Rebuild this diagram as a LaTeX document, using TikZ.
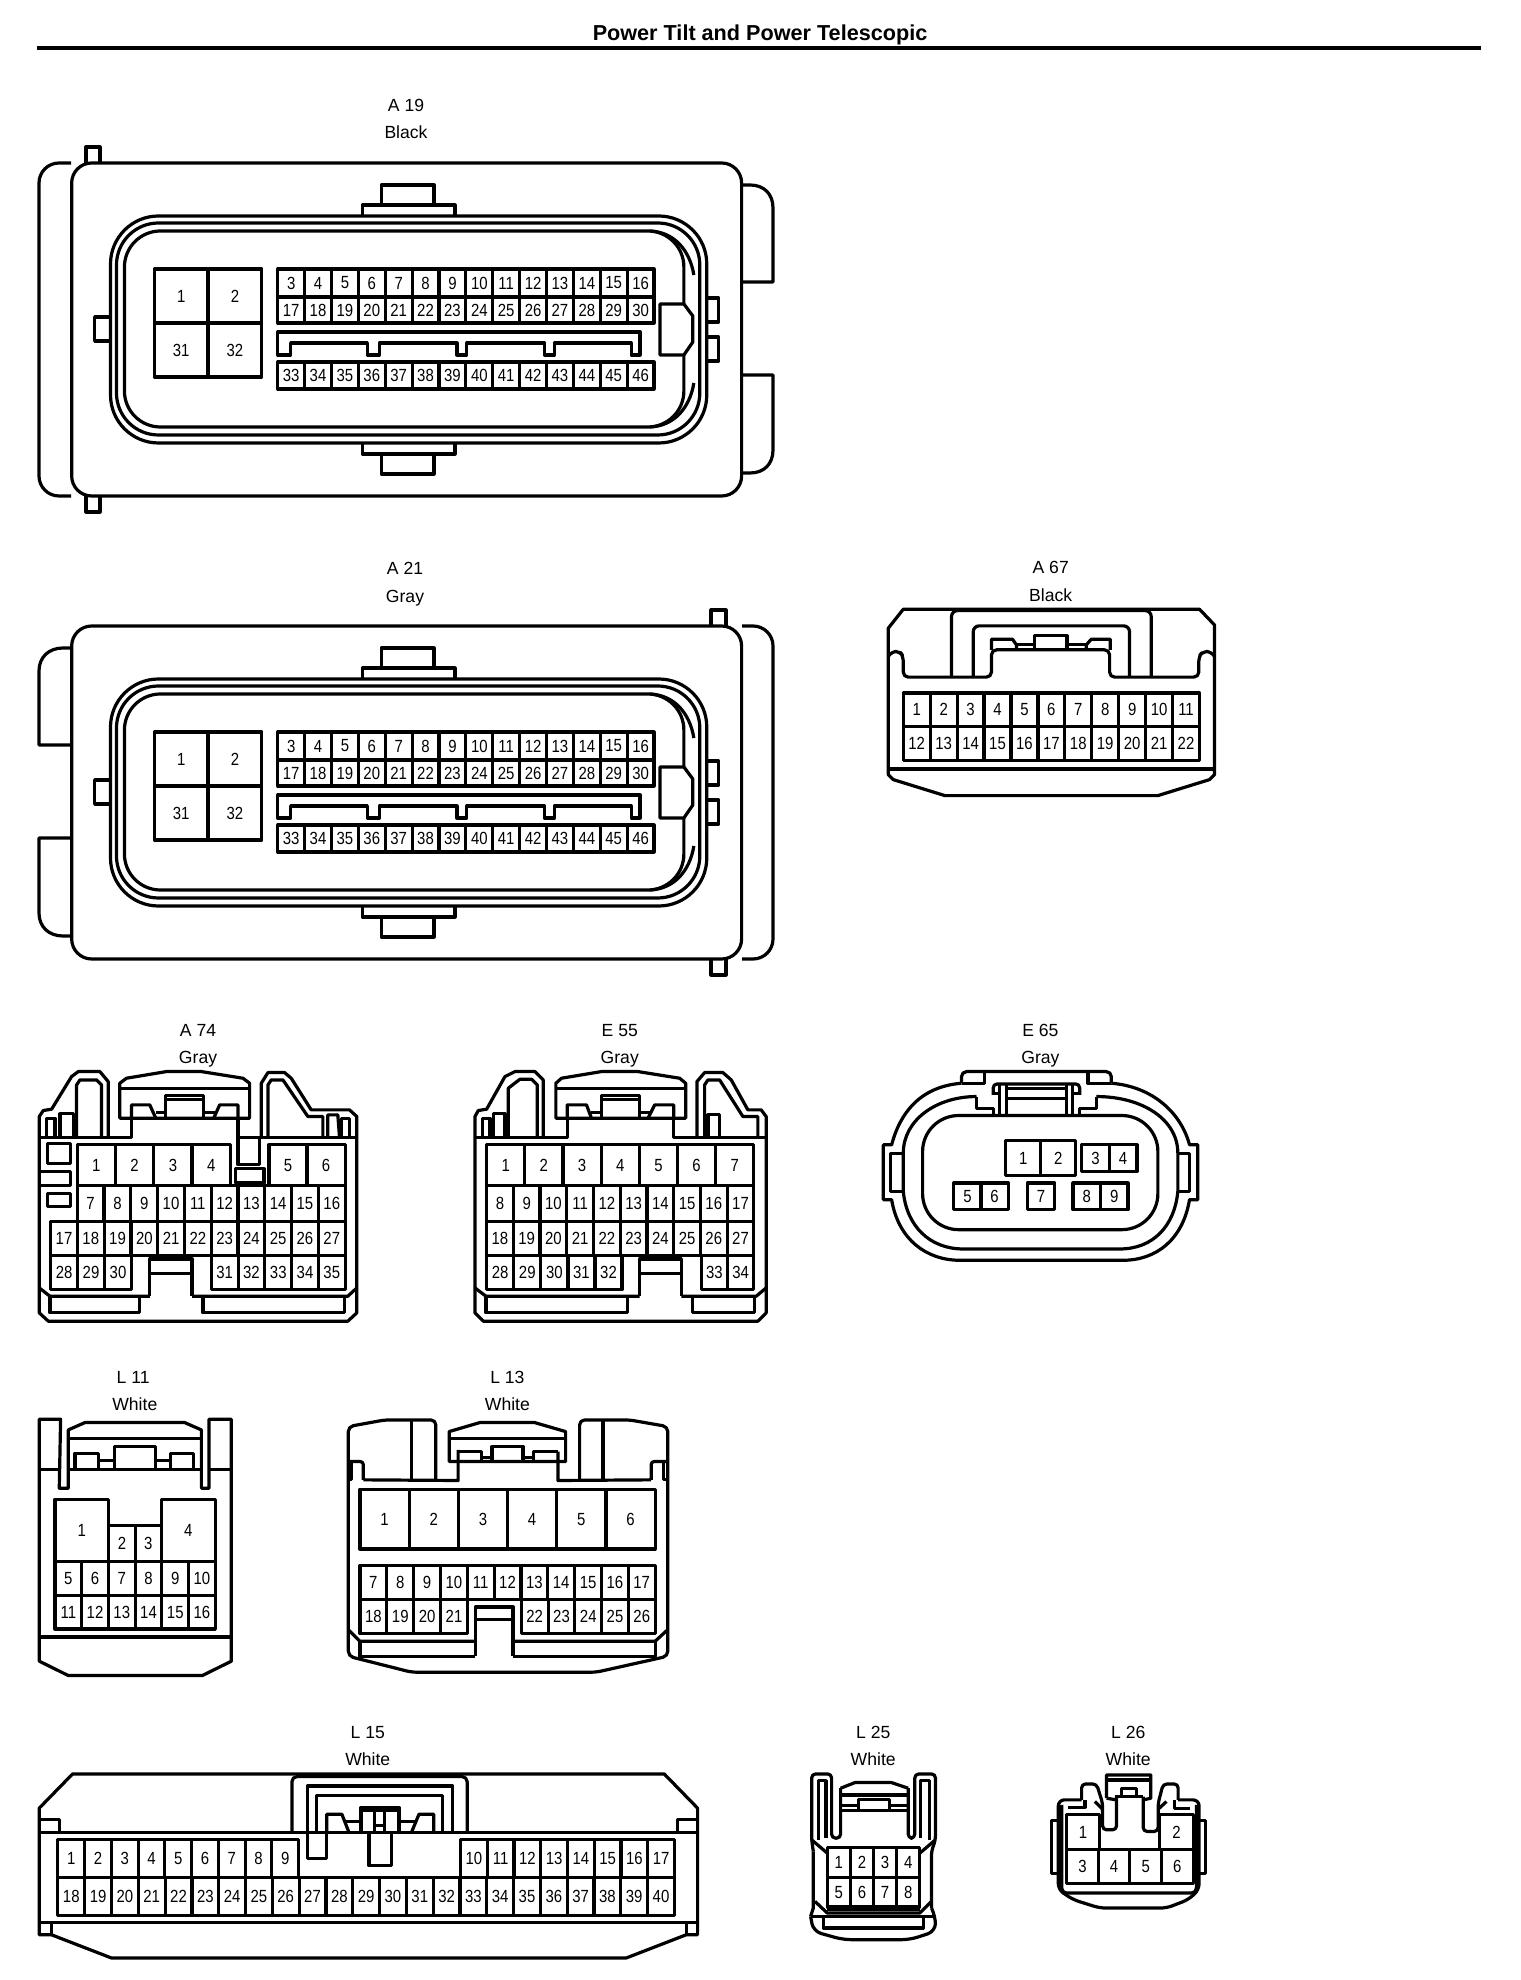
\documentclass[tikz,border=0pt]{standalone}
\usepackage{fontspec}
\setmainfont{Liberation Sans}
\newfontfamily\pinfont[FakeStretch=0.85]{Liberation Sans}
\tikzset{conn/.style = {line width = 0.032cm, line join = round}}
\tikzset{pinlab/.style = {font = \pinfont\fontsize{5}{6}\selectfont, inner sep = 0}}
\tikzset{lab/.style = {font = \fontsize{5}{6}\selectfont, anchor = base, inner sep = 0}}
\tikzset{zoomed/.style = {x = 0.0033333cm, y = -0.0033333cm}}
\newcommand{\pinrow}[7]{
  \foreach \n [evaluate = \n as \xa using {#2+(\n-#6)/(#7-#6+1)*(#3-#2)},
               evaluate = \n as \xb using {#2+(\n-#6+1)/(#7-#6+1)*(#3-#2)}] in {#6,...,#7} {
    \draw [conn] (\xa, #4) rectangle (\xb, #5) node [midway, pinlab] (#1-\n) {\n};
  }
}
\newcommand{\ecufront}[2]{
  \begin{scope}[shift = {(1, #2)}, x = 0.00995cm]
    \draw [conn, rounded corners = 0.2cm] (71, 163) rectangle (744, 496);
    \draw [conn] (382, 205) -- (382, 185) -- (435, 185) -- (435, 205);
    \draw [conn] (363, 216) -- (363, 205) -- (456, 205) -- (456, 216);
    \draw [conn] (363, 443) -- (363, 454) -- (456, 454) -- (456, 443);
    \draw [conn] (382, 454) -- (382, 474) -- (435, 474) -- (435, 454);
    \draw [conn, rounded corners = 0.48cm] (110, 216) rectangle (709, 443);
    \draw [conn, rounded corners = 0.42cm] (116, 223) rectangle (702, 435);
    \draw [conn, rounded corners = 0.36cm] (124, 231) rectangle (686, 427);
    \draw [conn] (652, 231) .. controls (676, 232) and (692, 250) .. (696, 275);
    \draw [conn] (652, 427) .. controls (676, 426) and (692, 408) .. (696, 383);
    \draw [conn] (109, 317) -- (94, 317) -- (94, 341) -- (109, 341);
    \draw [conn] (709, 298) -- (721, 298) -- (721, 322) -- (709, 322);
    \draw [conn] (709, 337) -- (721, 337) -- (721, 361) -- (709, 361);
    \draw [conn, fill = white] (662, 304) -- (686, 304) -- (695, 316) -- (695, 342)
      -- (686, 355) -- (662, 355) -- cycle;
    \pinrow{#1}{154}{262}{269}{323}{1}{2}
    \draw [conn] (154, 323) rectangle (208, 377) node [midway, pinlab] (#1-31) {31};
    \draw [conn] (208, 323) rectangle (262, 377) node [midway, pinlab] (#1-32) {32};
    \pinrow{#1}{278}{656}{269}{297}{3}{16}
    \pinrow{#1}{278}{656}{297}{323}{17}{30}
    \pinrow{#1}{278}{656}{362}{389}{33}{46}
    \draw [conn] (278, 332) -- (642, 332) -- (642, 355) -- (633, 355) -- (633, 343)
      -- (556, 343) -- (556, 355) -- (546, 355) -- (546, 343) -- (468, 343)
      -- (468, 355) -- (458, 355) -- (458, 343) -- (380, 343) -- (380, 355)
      -- (368, 355) -- (368, 343) -- (291, 343) -- (291, 355) -- (278, 355) -- cycle;
  \end{scope}
}
\begin{document}
\begin{tikzpicture}[x = 0.01cm, y = -0.01cm]
  \useasboundingbox (0, 0) rectangle (1520, 1980);
  \node [font = \bfseries\fontsize{6.15}{7}\selectfont, anchor = base, inner sep = 0] (title) at (760, 41)
    {Power Tilt and Power Telescopic};
  \coordinate (ruleL) at (37, 48);
  \coordinate (ruleR) at (1481, 48);
  \draw [line width = 0.035cm] (ruleL) -- (ruleR);

  \node [lab] (a19name) at (406, 112) {A 19};
  \node [lab] (a19col) at (406, 139) {Black};
  \ecufront{a19}{0}
  \draw [conn, rounded corners = 0.2cm] (71, 163) -- (39, 163) -- (39, 496) -- (71, 496);
  \draw [conn] (86, 163) -- (86, 147) -- (100, 147) -- (100, 163);
  \draw [conn] (86, 496) -- (86, 512) -- (100, 512) -- (100, 496);
  \draw [conn] (742, 185) -- (750, 185) .. controls (764, 185) and (773, 194) .. (773, 208)
    -- (773, 282) -- (742, 282);
  \draw [conn] (742, 375) -- (773, 375) -- (773, 450) .. controls (773, 464) and (764, 473) .. (750, 473)
    -- (742, 473);

  \node [lab] (a21name) at (405, 575) {A 21};
  \node [lab] (a21col) at (405, 603) {Gray};
  \ecufront{a21}{463}
  \draw [conn, rounded corners = 0.2cm] (742, 626) -- (773, 626) -- (773, 959) -- (742, 959);
  \draw [conn] (711, 626) -- (711, 610) -- (726, 610) -- (726, 626);
  \draw [conn] (711, 959) -- (711, 975) -- (726, 975) -- (726, 959);
  \draw [conn] (71, 648) -- (63, 648) .. controls (49, 648) and (39, 657) .. (39, 671)
    -- (39, 745) -- (71, 745);
  \draw [conn] (71, 838) -- (39, 838) -- (39, 913) .. controls (39, 927) and (49, 936) .. (63, 936)
    -- (71, 936);

  \begin{scope}[shift = {(860, 550)}, zoomed]
    \node [lab] (a67name) at (573, 70) {A 67};
    \node [lab] (a67col) at (573, 155) {Black};
    \draw [conn] (85, 235) -- (130, 178) -- (1020, 178) -- (1065, 225) -- (1065, 675)
      -- (1050, 690) -- (895, 738) -- (255, 738) -- (100, 690) -- (85, 675) -- cycle;
    \draw [conn] (85, 658) -- (1065, 658);
    \draw [conn, rounded corners = 0.05cm] (85, 320) -- (95, 305) -- (120, 305) -- (130, 320)
      -- (130, 382) -- (395, 382) -- (395, 300) -- (750, 300) -- (750, 382) -- (1018, 382)
      -- (1018, 320) -- (1030, 305) -- (1055, 305) -- (1065, 320);
    \draw [conn, rounded corners = 0.06cm] (275, 382) -- (275, 182) -- (875, 182) -- (875, 382);
    \draw [conn, rounded corners = 0.06cm] (340, 382) -- (340, 228) -- (810, 228) -- (810, 382);
    \draw [conn] (395, 300) -- (395, 268) -- (458, 268) -- (470, 285) -- (470, 300);
    \draw [conn] (470, 285) -- (525, 285);
    \draw [conn] (525, 300) -- (525, 258) -- (622, 258) -- (622, 300);
    \draw [conn] (622, 285) -- (680, 285);
    \draw [conn] (680, 300) -- (680, 285) -- (695, 268) -- (752, 268) -- (752, 300);
    \pinrow{a67}{130}{1020}{430}{530}{1}{11}
    \pinrow{a67}{130}{1020}{530}{632}{12}{22}
  \end{scope}

  \begin{scope}[shift = {(20, 1020)}, zoomed]
    \node [lab] (a74name) at (535, 50) {A 74};
    \node [lab] (a74col) at (535, 130) {Gray};
    \draw [conn] (265, 352) -- (265, 185) -- (240, 155) -- (175, 155) -- (155, 170) -- (95, 268)
      -- (70, 272) -- (58, 290) -- (58, 880) -- (85, 905) -- (985, 905) -- (1012, 880)
      -- (1012, 290) -- (990, 270) -- (875, 270) -- (815, 175) -- (795, 158) -- (745, 158)
      -- (725, 190) -- (725, 352);
    \draw [conn] (170, 352) -- (170, 195) -- (180, 180) -- (230, 180) -- (245, 195) -- (245, 352);
    \draw [conn] (58, 352) -- (335, 352) -- (335, 295);
    \draw [conn] (300, 295) -- (300, 190) -- (320, 175) -- (440, 155) -- (545, 155) -- (670, 175)
      -- (690, 190) -- (690, 295) -- cycle;
    \draw [conn] (300, 205) -- (690, 205);
    \draw [conn] (335, 295) -- (335, 255) -- (390, 255) -- (408, 295);
    \draw [conn] (437, 295) -- (437, 228) -- (552, 228) -- (552, 295);
    \draw [conn] (437, 240) -- (552, 240);
    \draw [conn] (408, 278) -- (437, 278);
    \draw [conn] (552, 278) -- (590, 278);
    \draw [conn] (582, 295) -- (600, 255) -- (655, 255) -- (655, 295);
    \draw [conn] (655, 295) -- (655, 435) -- (720, 435) -- (720, 352);
    \draw [conn] (655, 352) -- (1012, 352);
    \draw [conn] (745, 352) -- (745, 195) -- (755, 180) -- (790, 180) -- (865, 290) -- (910, 290)
      -- (910, 352);
    \draw [conn] (80, 352) -- (80, 295) -- (105, 295) -- (105, 352);
    \draw [conn] (120, 352) -- (120, 282) -- (160, 282) -- (160, 352);
    \draw [conn] (925, 352) -- (925, 285) -- (955, 285) -- (960, 352);
    \draw [conn] (965, 352) -- (965, 295) -- (990, 295) -- (990, 352);
    \draw [conn] (82, 372) rectangle (152, 430);
    \draw [conn] (58, 455) -- (152, 455) -- (152, 497) -- (58, 497);
    \draw [conn] (82, 522) rectangle (152, 560);
    \draw [conn] (648, 447) rectangle (733, 490);
    \pinrow{a74}{172}{632}{375}{497}{1}{4}
    \pinrow{a74}{748}{977}{375}{497}{5}{6}
    \pinrow{a74}{172}{977}{497}{605}{7}{16}
    \pinrow{a74}{92}{977}{605}{708}{17}{27}
    \pinrow{a74}{92}{335}{708}{810}{28}{30}
    \pinrow{a74}{575}{977}{708}{810}{31}{35}
    \draw [conn] (390, 830) -- (390, 718) -- (517, 718) -- (517, 830);
    \draw [conn] (390, 762) -- (517, 762);
    \draw [conn] (58, 805) -- (90, 830) -- (390, 830);
    \draw [conn] (517, 830) -- (985, 830) -- (1012, 805);
    \draw [conn] (90, 830) -- (90, 880) -- (360, 880) -- (360, 830);
    \draw [conn] (550, 830) -- (550, 880) -- (975, 880) -- (975, 830);
  \end{scope}

  \begin{scope}[shift = {(460, 1020)}, zoomed]
    \node [lab] (e55name) at (480, 50) {E 55};
    \node [lab] (e55col) at (480, 130) {Gray};
    \draw [conn] (250, 352) -- (250, 180) -- (225, 155) -- (165, 155) -- (135, 170) -- (80, 268)
      -- (55, 272) -- (45, 290) -- (45, 880) -- (70, 905) -- (895, 905) -- (920, 880)
      -- (920, 290) -- (905, 270) -- (865, 270) -- (815, 180) -- (790, 158) -- (735, 158)
      -- (712, 185) -- (712, 352);
    \draw [conn] (145, 352) -- (145, 205) -- (180, 178) -- (215, 178) -- (232, 195) -- (232, 352);
    \draw [conn] (45, 352) -- (322, 352) -- (322, 295);
    \draw [conn] (288, 295) -- (288, 190) -- (305, 175) -- (425, 155) -- (535, 155) -- (660, 175)
      -- (678, 190) -- (678, 295) -- cycle;
    \draw [conn] (288, 205) -- (678, 205);
    \draw [conn] (322, 295) -- (322, 255) -- (380, 255) -- (395, 295);
    \draw [conn] (425, 295) -- (425, 228) -- (540, 228) -- (540, 295);
    \draw [conn] (425, 240) -- (540, 240);
    \draw [conn] (395, 278) -- (425, 278);
    \draw [conn] (540, 278) -- (578, 278);
    \draw [conn] (565, 295) -- (585, 255) -- (642, 255) -- (642, 295);
    \draw [conn] (642, 295) -- (642, 352) -- (920, 352);
    \draw [conn] (735, 352) -- (735, 195) -- (745, 180) -- (780, 180) -- (850, 290) -- (895, 290)
      -- (895, 352);
    \draw [conn] (68, 352) -- (68, 295) -- (90, 295) -- (90, 352);
    \draw [conn] (100, 352) -- (100, 282) -- (135, 282) -- (135, 352);
    \draw [conn] (745, 352) -- (745, 285) -- (780, 285) -- (780, 352);
    \pinrow{e55}{80}{883}{375}{497}{1}{7}
    \pinrow{e55}{80}{883}{497}{605}{8}{17}
    \pinrow{e55}{80}{883}{605}{708}{18}{27}
    \pinrow{e55}{80}{487}{708}{810}{28}{32}
    \pinrow{e55}{725}{883}{708}{810}{33}{34}
    \draw [conn] (540, 830) -- (540, 718) -- (665, 718) -- (665, 830);
    \draw [conn] (540, 762) -- (665, 762);
    \draw [conn] (45, 805) -- (78, 830) -- (540, 830);
    \draw [conn] (665, 830) -- (890, 830) -- (920, 805);
    \draw [conn] (78, 830) -- (78, 880) -- (503, 880) -- (503, 830);
    \draw [conn] (698, 830) -- (698, 880) -- (885, 880) -- (885, 830);
  \end{scope}

  \begin{scope}[shift = {(870, 1020)}, zoomed]
    \node [lab] (e65name) at (512, 50) {E 65};
    \node [lab] (e65col) at (512, 130) {Gray};
    \draw [conn, rounded corners = 0.05cm] (275, 190) -- (275, 155) -- (725, 155) -- (725, 190);
    \draw [conn] (275, 190) -- (345, 190) -- (345, 155);
    \draw [conn] (725, 190) -- (655, 190) -- (655, 155);
    \draw [conn] (275, 190) .. controls (150, 200) and (90, 280) .. (65, 375) -- (40, 375) -- (40, 540) -- (65, 540)
      .. controls (85, 660) and (170, 722) .. (270, 722) -- (760, 722)
      .. controls (860, 722) and (940, 660) .. (960, 540) -- (985, 540) -- (985, 375) -- (960, 375)
      .. controls (935, 280) and (850, 200) .. (725, 190);
    \draw [conn] (320, 230) .. controls (200, 230) and (100, 300) .. (100, 400) -- (100, 515)
      .. controls (110, 620) and (180, 688) .. (280, 688) -- (750, 688)
      .. controls (850, 688) and (915, 620) .. (925, 515) -- (925, 400)
      .. controls (925, 300) and (820, 230) .. (680, 230);
    \draw [conn, rounded corners = 0.36cm] (158, 287) rectangle (865, 630);
    \draw [conn] (100, 400) -- (62, 400) -- (62, 515) -- (100, 515);
    \draw [conn] (925, 400) -- (960, 400) -- (960, 515) -- (925, 515);
    \draw [conn, rounded corners = 0.04cm] (370, 225) -- (370, 192) -- (630, 192) -- (630, 225);
    \draw [conn] (370, 222) -- (390, 222);
    \draw [conn] (610, 222) -- (630, 222);
    \draw [conn] (410, 205) -- (590, 205);
    \draw [conn] (410, 235) -- (590, 235);
    \draw [conn] (390, 195) -- (390, 285);
    \draw [conn] (410, 195) -- (410, 285);
    \draw [conn] (590, 195) -- (590, 285);
    \draw [conn] (608, 195) -- (608, 285);
    \draw [conn] (320, 230) -- (320, 265) -- (370, 265) -- (370, 285);
    \draw [conn] (680, 230) -- (680, 265) -- (630, 265) -- (630, 285);
    \pinrow{e65}{408}{618}{362}{468}{1}{2}
    \pinrow{e65}{636}{802}{375}{455}{3}{4}
    \pinrow{e65}{252}{415}{490}{570}{5}{6}
    \pinrow{e65}{472}{555}{490}{570}{7}{7}
    \pinrow{e65}{610}{775}{490}{570}{8}{9}
  \end{scope}

  \begin{scope}[shift = {(20, 1370)}, zoomed]
    \node [lab] (l11name) at (340, 40) {L 11};
    \node [lab] (l11col) at (345, 122) {White};
    \draw [conn] (122, 148) -- (58, 148) -- (58, 875) -- (145, 918) -- (548, 918) -- (635, 875)
      -- (635, 148) -- (568, 148) -- (568, 355) -- (545, 355) -- (545, 180) -- (495, 158)
      -- (195, 158) -- (145, 180) -- (145, 355) -- (118, 355) -- cycle;
    \draw [conn] (148, 205) -- (545, 205);
    \draw [conn] (58, 298) -- (120, 298);
    \draw [conn] (145, 298) -- (545, 298);
    \draw [conn] (568, 298) -- (635, 298);
    \draw [conn] (165, 298) -- (165, 250) -- (235, 250) -- (235, 298);
    \draw [conn] (235, 272) -- (285, 272);
    \draw [conn] (285, 298) -- (285, 230) -- (408, 230) -- (408, 298);
    \draw [conn] (408, 272) -- (452, 272);
    \draw [conn] (452, 298) -- (452, 250) -- (522, 250) -- (522, 298);
    \draw [conn] (58, 802) -- (635, 802);
    \pinrow{l11}{105}{267}{388}{575}{1}{1}
    \pinrow{l11}{267}{425}{468}{575}{2}{3}
    \pinrow{l11}{425}{587}{388}{575}{4}{4}
    \pinrow{l11}{105}{587}{575}{678}{5}{10}
    \pinrow{l11}{105}{587}{678}{778}{11}{16}
  \end{scope}

  \begin{scope}[shift = {(330, 1370)}, zoomed]
    \node [lab] (l13name) at (533, 40) {L 13};
    \node [lab] (l13col) at (533, 122) {White};
    \draw [conn, rounded corners = 0.05cm] (318, 332) -- (318, 150) -- (165, 150) -- (55, 170)
      -- (55, 860) -- (245, 908) -- (800, 908) -- (1015, 860) -- (1015, 170) -- (900, 150)
      -- (750, 150) -- (750, 332);
    \draw [conn] (245, 150) -- (245, 330);
    \draw [conn] (820, 150) -- (820, 330);
    \draw [conn] (100, 330) -- (385, 332) -- (385, 240);
    \draw [conn, rounded corners = 0.03cm] (55, 275) -- (100, 275) -- (100, 330);
    \draw [conn] (65, 275) -- (65, 330) -- (55, 330);
    \draw [conn, rounded corners = 0.03cm] (1015, 275) -- (965, 275) -- (965, 330);
    \draw [conn] (1003, 275) -- (1003, 330) -- (1015, 330);
    \draw [conn] (685, 245) -- (685, 332) -- (965, 330);
    \draw [conn] (358, 275) -- (358, 185) -- (450, 158) -- (615, 158) -- (708, 185) -- (708, 275)
      -- cycle;
    \draw [conn] (358, 205) -- (708, 205);
    \draw [conn] (385, 245) -- (455, 245) -- (455, 275);
    \draw [conn] (455, 262) -- (487, 262);
    \draw [conn] (487, 275) -- (487, 230) -- (580, 230) -- (580, 275);
    \draw [conn] (580, 262) -- (612, 262);
    \draw [conn] (612, 275) -- (612, 245) -- (685, 245);
    \pinrow{l13}{90}{977}{358}{538}{1}{6}
    \pinrow{l13}{90}{977}{587}{690}{7}{17}
    \pinrow{l13}{90}{413}{690}{792}{18}{21}
    \pinrow{l13}{575}{977}{690}{792}{22}{26}
    \draw [conn] (437, 860) -- (437, 712) -- (550, 712) -- (550, 860);
    \draw [conn] (437, 750) -- (550, 750);
    \draw [conn] (55, 780) -- (90, 815) -- (437, 815);
    \draw [conn] (550, 815) -- (977, 815) -- (1015, 780);
    \draw [conn] (90, 815) -- (90, 860) -- (437, 860);
    \draw [conn] (550, 860) -- (977, 860) -- (977, 815);
  \end{scope}

  \begin{scope}[shift = {(20, 1720)}, x = 0.004455cm, y = -0.0033333cm]
    \node [lab] (l15name) at (780, 55) {L 15};
    \node [lab] (l15col) at (780, 137) {White};
    \draw [conn] (70, 645) -- (43, 645) -- (43, 265) -- (118, 162) -- (1445, 162) -- (1520, 265)
      -- (1520, 645) -- (1495, 645) -- (1360, 715) -- (205, 715) -- (70, 645);
    \draw [conn] (43, 608) -- (1520, 608);
    \draw [conn] (70, 608) -- (70, 645);
    \draw [conn] (1495, 608) -- (1495, 645);
    \draw [conn] (43, 338) -- (1520, 338);
    \draw [conn] (43, 300) -- (88, 300) -- (88, 338);
    \draw [conn] (1520, 300) -- (1475, 300) -- (1475, 338);
    \draw [conn, rounded corners = 0.05cm] (610, 338) -- (610, 170) -- (1003, 170) -- (1003, 338);
    \draw [conn] (970, 338) -- (970, 198) -- (645, 198) -- (645, 415) -- (688, 415) -- (688, 338);
    \draw [conn] (665, 338) -- (665, 228) -- (948, 228) -- (948, 338);
    \draw [conn] (688, 338) -- (688, 283) -- (722, 283) -- (738, 338);
    \draw [conn] (730, 305) -- (765, 305);
    \draw [conn] (765, 338) -- (765, 263) -- (850, 263) -- (850, 338);
    \draw [conn] (765, 272) -- (850, 272);
    \draw [conn] (795, 272) -- (795, 338);
    \draw [conn] (818, 272) -- (818, 338);
    \draw [conn] (795, 318) -- (818, 318);
    \draw [conn] (850, 305) -- (885, 305);
    \draw [conn] (878, 338) -- (895, 283) -- (928, 283) -- (928, 338);
    \draw [conn] (783, 338) -- (783, 438) -- (833, 438) -- (833, 338);
    \pinrow{l15}{85}{625}{358}{472}{1}{9}
    \pinrow{l15}{988}{1468}{358}{472}{10}{17}
    \pinrow{l15}{85}{1468}{472}{588}{18}{40}
  \end{scope}

  \begin{scope}[shift = {(790, 1720)}, zoomed]
    \node [lab] (l25name) at (250, 55) {L 25};
    \node [lab] (l25col) at (250, 137) {White};
    \draw [conn, rounded corners = 0.04cm] (70, 395) -- (65, 360) -- (65, 162) -- (125, 162) -- (125, 355)
      -- (152, 355) -- (152, 205);
    \draw [conn] (152, 205) -- (195, 188) -- (305, 188) -- (355, 205);
    \draw [conn, rounded corners = 0.04cm] (355, 205) -- (355, 355) -- (375, 355) -- (375, 162) -- (437, 162)
      -- (437, 360) -- (425, 395) -- (425, 565);
    \draw [conn] (70, 395) -- (70, 565) -- (62, 590);
    \draw [conn, rounded corners = 0.08cm] (62, 590) -- (70, 635) -- (160, 660) -- (360, 660) -- (437, 635)
      -- (437, 590) -- (425, 565);
    \draw [conn] (85, 360) -- (85, 182) -- (108, 182) -- (108, 355);
    \draw [conn] (392, 355) -- (392, 182) -- (418, 182) -- (418, 360);
    \draw [conn] (152, 225) -- (355, 225);
    \draw [conn] (205, 270) -- (205, 238) -- (298, 238) -- (298, 270);
    \draw [conn] (152, 258) -- (205, 258);
    \draw [conn] (298, 258) -- (355, 258);
    \draw [conn] (152, 272) -- (355, 272);
    \draw [conn] (65, 360) -- (112, 400);
    \draw [conn] (437, 360) -- (390, 400);
    \pinrow{l25}{112}{390}{383}{473}{1}{4}
    \pinrow{l25}{112}{390}{473}{562}{5}{8}
    \draw [conn] (75, 545) -- (112, 580) -- (390, 580) -- (425, 545);
    \draw [conn] (112, 570) -- (390, 570);
    \draw [conn] (62, 590) -- (437, 590);
    \draw [conn] (100, 590) -- (100, 625) -- (400, 625) -- (400, 590);
  \end{scope}

  \begin{scope}[shift = {(1040, 1720)}, zoomed]
    \node [lab] (l26name) at (265, 55) {L 26};
    \node [lab] (l26col) at (265, 137) {White};
    \draw [conn, rounded corners = 0.06cm] (125, 240) -- (55, 240) -- (55, 510) -- (100, 540) -- (180, 565)
      -- (380, 565) -- (445, 540) -- (478, 510) -- (478, 240) -- (415, 240);
    \draw [conn, rounded corners = 0.05cm] (65, 255) -- (65, 520) -- (470, 520) -- (470, 255);
    \draw [conn] (55, 302) -- (35, 302) -- (35, 462) -- (55, 462);
    \draw [conn] (478, 302) -- (498, 302) -- (498, 462) -- (478, 462);
    \draw [conn, rounded corners = 0.04cm] (125, 240) -- (125, 192) -- (170, 192) -- (188, 250) -- (188, 330)
      -- (230, 330) -- (230, 230);
    \draw [conn, rounded corners = 0.04cm] (415, 240) -- (415, 192) -- (370, 192) -- (355, 250) -- (355, 335)
      -- (310, 335) -- (310, 230);
    \draw [conn] (200, 235) -- (200, 165) -- (333, 165) -- (333, 235) -- (310, 240);
    \draw [conn] (200, 235) -- (230, 240);
    \draw [conn] (200, 180) -- (333, 180);
    \draw [conn] (245, 230) -- (245, 205) -- (290, 205) -- (290, 230);
    \draw [conn] (225, 230) -- (310, 230);
    \draw [conn] (85, 262) -- (135, 262) -- (135, 240);
    \draw [conn] (165, 245) -- (188, 268);
    \draw [conn] (355, 268) -- (380, 245);
    \draw [conn] (405, 240) -- (405, 265) -- (450, 265);
    \pinrow{l26}{80}{178}{283}{390}{1}{1}
    \pinrow{l26}{360}{460}{283}{390}{2}{2}
    \pinrow{l26}{80}{460}{390}{492}{3}{6}
  \end{scope}
\end{tikzpicture}
\end{document}
